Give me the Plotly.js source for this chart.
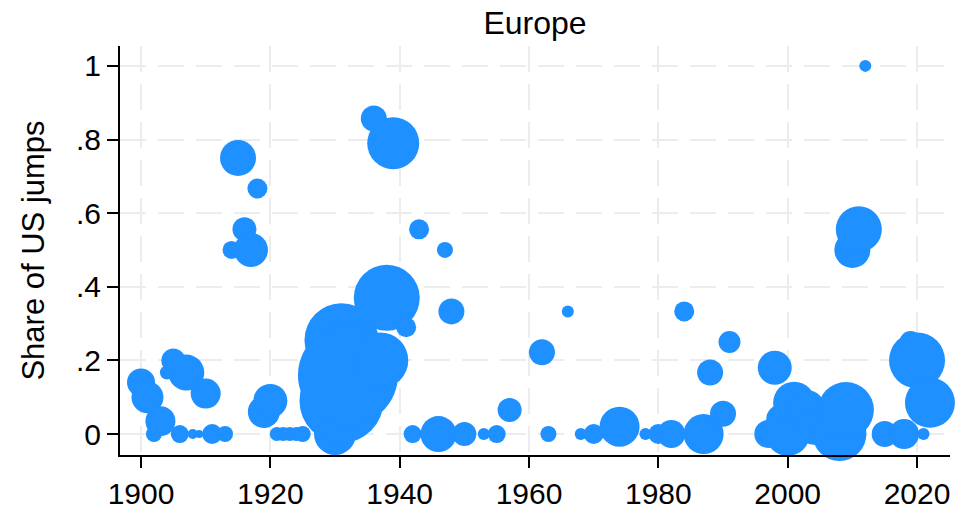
<!DOCTYPE html>
<html>
<head>
<meta charset="utf-8">
<script src="https://cdn.plot.ly/plotly-3.0.1.min.js"></script>
<style>html,body{margin:0;padding:0;background:#fff;}#chart{width:956px;height:511px;}</style>
</head>
<body>
<div id="chart"></div>
<script>
// Year of each episode
const years = [1900,1901,1902,1903,1904,1905,1906,1907,1908,1909,1910,1911,1913,1914,1915,1916,1917,1918,1919,1920,
  1921,1922,1923,1924,1925,1930,1931,1931,1932,1937,1936,1938,1939,1941,1942,1943,1946,1947,1948,1950,
  1953,1955,1957,1962,1963,1966,1968,1970,1974,1978,1980,1982,1984,1987,1988,1990,1991,1997,1998,1999,
  2000,2001,2003,2004,2008,2009,2010,2011,2012,2015,2018,2019,2020,2021,2022];
// Share of US jumps
const shares = [0.14,0.10,0.0,0.035,0.167,0.20,0.0,0.167,0.0,0.0,0.11,0.0,0.0,0.5,0.75,0.556,0.5,0.667,0.06,0.09,
  0,0,0,0,0,0,0.255,0.09,0.16,0.2,0.857,0.37,0.79,0.29,0,0.556,0,0.5,0.333,0,
  0,0,0.065,0.222,0,0.333,0,0,0.02,0,0,0,0.333,0,0.167,0.055,0.25,0,0.18,0.04,
  0,0.085,0.07,0.02,0,0.065,0.5,0.556,1.0,0,0,0.25,0.2,0,0.085];
// Bubble weight (number of jumps)
const weights = [28,32,16,30,14,24,18,36,10,8,30,20,16,18,36,24,34,20,32,34,
  14,14,14,14,16,42,74,84,100,56,26,66,52,20,18,20,36,16,26,24,
  12,18,24,26,16,12,12,20,40,12,20,28,20,40,26,26,22,28,34,30,
  44,42,36,36,54,56,36,46,12,26,30,22,56,12,50];

const xTicks = [1900,1920,1940,1960,1980,2000,2020];
const yTicks = [0,0.2,0.4,0.6,0.8,1];
const yTickText = ["0",".2",".4",".6",".8","1"];

const FONT = "'Liberation Sans', Arial, Helvetica, sans-serif";

const trace = {
  type: 'scatter',
  mode: 'markers',
  x: years,
  y: shares,
  cliponaxis: false,
  hoverinfo: 'x+y',
  marker: {
    size: weights,
    sizemode: 'diameter',
    sizeref: 1,
    color: '#1E90FF',
    opacity: 1,
    line: {width: 0}
  }
};

const gridCommon = {
  showgrid: true,
  gridcolor: '#ececec',
  gridwidth: 2,
  griddash: '26px,12px',
  zeroline: false,
  showline: true,
  linecolor: '#000',
  linewidth: 2,
  ticks: 'outside',
  ticklen: 11,
  tickwidth: 2,
  tickcolor: '#000',
  tickfont: {family: FONT, size: 30, color: '#000'}
};

const layout = {
  width: 956,
  height: 511,
  paper_bgcolor: '#fff',
  plot_bgcolor: '#fff',
  margin: {l: 120, r: 6, t: 46, b: 56},
  showlegend: false,
  title: {
    text: 'Europe',
    font: {family: FONT, size: 32, color: '#000'},
    x: 0.5, xref: 'paper', xanchor: 'center',
    y: 0.955, yref: 'container', yanchor: 'middle'
  },
  xaxis: Object.assign({}, gridCommon, {
    range: [1896.75, 2025.1],
    tickmode: 'array',
    tickvals: xTicks
  }),
  yaxis: Object.assign({}, gridCommon, {
    range: [-0.057, 1.054],
    tickmode: 'array',
    tickvals: yTicks,
    ticktext: yTickText,
    title: {text: 'Share of US jumps', font: {family: FONT, size: 31, color: '#000'}, standoff: 22}
  })
};

Plotly.newPlot('chart', [trace], layout, {displayModeBar: false, staticPlot: true});
</script>
</body>
</html>
